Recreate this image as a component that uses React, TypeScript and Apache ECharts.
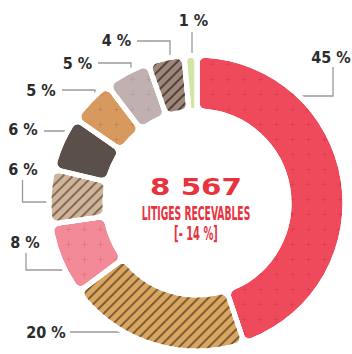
import React, { useEffect, useRef } from 'react';
import * as echarts from 'echarts';

// ---- data ----
const shares = [45, 20, 8, 6, 6, 5, 5, 4, 1];
const totalDisputes = '8 567';
const centerCaption = 'LITIGES RECEVABLES';
const changeText = '[- 14 %]';

// ---- styles ----
const sliceColors = ['#EE4A5C', '#D9A660', '#F28A98', '#CFB49A', '#5B5049', '#D8995F', '#C0B1B0', '#9E877A', '#D4E3A6'];
const sliceTexture = ['star', 'stripe', 'star', 'stripe', 'none', 'star', 'star', 'stripe', 'none'];
const textureInk = [
  'rgba(170,30,50,0.3)',
  'rgba(90,62,40,0.7)',
  'rgba(190,70,90,0.3)',
  'rgba(95,75,58,0.7)',
  'rgba(0,0,0,0)',
  'rgba(150,90,45,0.3)',
  'rgba(140,120,120,0.3)',
  'rgba(55,42,36,0.75)',
  'rgba(0,0,0,0)',
];

// ---- annotation layout (label centre + guide polyline) ----
const labelGuides = [
  { text: [331, 57], line: [[265, 96], [333, 96], [333, 67]] },
  { text: [46, 332], line: [[143, 332], [70, 332]] },
  { text: [25, 242], line: [[83, 270], [26, 270], [26, 253]] },
  { text: [23, 169.5], line: [[53, 202], [22.5, 202], [22.5, 180]] },
  { text: [23, 129.5], line: [[70, 152], [70, 131], [44, 131]] },
  { text: [41, 90], line: [[95, 110], [95, 90], [62, 90]] },
  { text: [77.5, 63.5], line: [[131, 83], [131, 63], [98, 63]] },
  { text: [116.5, 40.5], line: [[170, 67], [170, 41], [137, 41]] },
  { text: [193.5, 20], line: [[192, 57], [192, 32]] },
];

const STAR = 'path://M5,0 L5.7,4.3 L10,5 L5.7,5.7 L5,10 L4.3,5.7 L0,5 L4.3,4.3 Z';

function decalFor(i: number) {
  const t = sliceTexture[i];
  if (t === 'stripe') {
    return {
      symbol: 'rect',
      symbolSize: 1,
      color: textureInk[i],
      dashArrayX: [1, 0],
      dashArrayY: [2, 5],
      rotation: -Math.PI / 4,
    };
  }
  if (t === 'star') {
    return {
      symbol: STAR,
      symbolSize: 0.9,
      color: textureInk[i],
      dashArrayX: [9, 7],
      dashArrayY: [9, 6],
      rotation: 0,
    };
  }
  return { symbol: 'none', color: 'rgba(0,0,0,0)', dashArrayX: [1, 0], dashArrayY: [1, 0] };
}

const condFont = '"DejaVu Sans Condensed", "DejaVu Sans", sans-serif';

export default function App() {
  const ref = useRef<HTMLDivElement>(null);
  useEffect(() => {
    document.body.style.margin = '0';
    const chart = echarts.init(ref.current!, undefined, { renderer: 'svg' });
    chart.setOption({
      animation: false,
      backgroundColor: '#ffffff',
      series: [
        {
          type: 'pie',
          center: [197, 203],
          radius: [92, 148],
          startAngle: 90,
          clockwise: true,
          minAngle: 5,
          avoidLabelOverlap: false,
          itemStyle: { borderColor: '#ffffff', borderWidth: 5, borderRadius: 8 },
          label: {
            show: true,
            position: 'outside',
            formatter: '{c} %',
            color: '#2b2b2b',
            fontFamily: condFont,
            fontWeight: 'bold',
            fontSize: 16,
          },
          labelLine: { show: true, lineStyle: { color: '#9a9a9a', width: 1.3 } },
          labelLayout: (params: any) => {
            const g = labelGuides[params.dataIndex];
            return {
              x: g.text[0],
              y: g.text[1],
              align: 'center',
              verticalAlign: 'middle',
              labelLinePoints: g.line,
            };
          },
          data: shares.map((v, i) => ({
            value: v,
            itemStyle: { color: sliceColors[i], decal: decalFor(i) },
          })),
        },
      ],
      graphic: [
        {
          type: 'text',
          x: 196,
          y: 187,
          scaleX: 1.28,
          style: {
            text: totalDisputes,
            fill: '#E8333F',
            font: 'bold 23px "DejaVu Sans", sans-serif',
            align: 'center',
            verticalAlign: 'middle',
          },
        },
        {
          type: 'text',
          x: 196,
          y: 213.5,
          scaleX: 0.54,
          style: {
            text: centerCaption,
            fill: '#E8333F',
            font: 'bold 19px ' + condFont,
            align: 'center',
            verticalAlign: 'middle',
          },
        },
        {
          type: 'text',
          x: 196,
          y: 234,
          scaleX: 0.58,
          style: {
            text: changeText,
            fill: '#E8333F',
            font: 'bold 19px ' + condFont,
            align: 'center',
            verticalAlign: 'middle',
          },
        },
      ],
    });
    return () => chart.dispose();
  }, []);
  return <div ref={ref} style={{ position: 'fixed', left: 0, top: 0, width: 352, height: 354 }} />;
}
